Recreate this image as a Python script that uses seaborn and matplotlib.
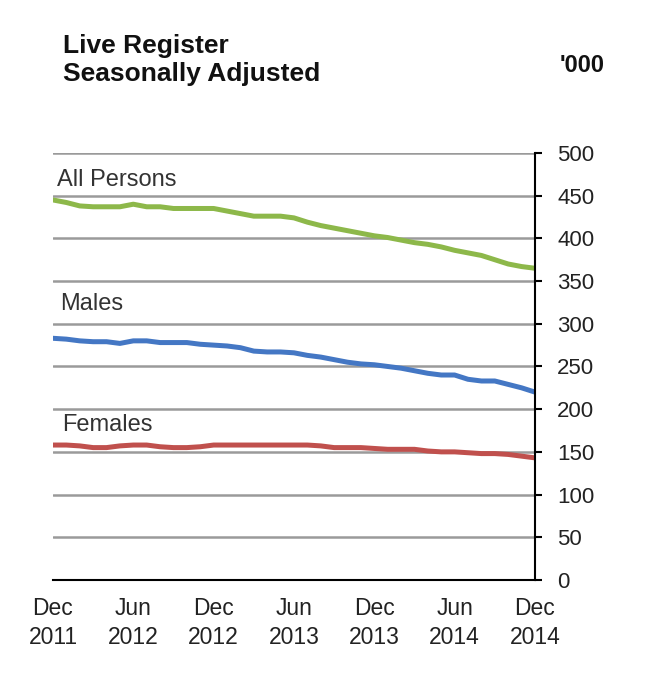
import numpy as np
import pandas as pd
import matplotlib.pyplot as plt
import seaborn as sns

# monthly, Dec 2011 .. Dec 2014 ('000, seasonally adjusted)
all_persons = [445, 442, 438, 437, 437, 437, 440, 437, 437, 435, 435, 435, 435,
               432, 429, 426, 426, 426, 424, 419, 415, 412, 409, 406, 403,
               401, 398, 395, 393, 390, 386, 383, 380, 375, 370, 367, 365]
males = [283, 282, 280, 279, 279, 277, 280, 280, 278, 278, 278, 276, 275,
         274, 272, 268, 267, 267, 266, 263, 261, 258, 255, 253, 252,
         250, 248, 245, 242, 240, 240, 235, 233, 233, 229, 225, 220]
females = [158, 158, 157, 155, 155, 157, 158, 158, 156, 155, 155, 156, 158,
           158, 158, 158, 158, 158, 158, 158, 157, 155, 155, 155, 154,
           153, 153, 153, 151, 150, 150, 149, 148, 148, 147, 145, 143]
month = list(range(len(males)))
tick_months = [0, 6, 12, 18, 24, 30, 36]
tick_labels = ["Dec\n2011", "Jun\n2012", "Dec\n2012", "Jun\n2013",
               "Dec\n2013", "Jun\n2014", "Dec\n2014"]

df = pd.DataFrame({
    "month": month * 3,
    "value": all_persons + males + females,
    "series": ["All Persons"] * len(month) + ["Males"] * len(month) + ["Females"] * len(month),
})

sns.set_style("white")
plt.rcParams['font.family'] = ['Liberation Sans', 'DejaVu Sans']

fig = plt.figure(figsize=(6.5, 6.82), dpi=100)
ax = fig.add_axes([0.0815, 0.1496, 0.7415, 0.6261])

colors = {"All Persons": "#8db84a", "Males": "#4477c4", "Females": "#c0504d"}
sns.lineplot(data=df, x="month", y="value", hue="series", palette=colors,
             linewidth=3.6, ax=ax, legend=False)

ax.set_xlim(0, 36)
ax.set_ylim(0, 500)
ax.set_yticks(range(0, 501, 50))
for yv in range(50, 501, 50):
    ax.axhline(yv, color="#9a9a9a", linewidth=1.8, zorder=0)

ax.yaxis.tick_right()
ax.set_xticks(tick_months)
ax.set_xticklabels(tick_labels, fontsize=16.5, color="#222222", linespacing=1.35)
ax.tick_params(axis="y", direction="out", length=5, width=1.5, colors="black",
               labelsize=16, labelcolor="#222222", pad=11)
ax.tick_params(axis="x", direction="in", length=6, width=1.5, colors="black",
               labelcolor="#222222", pad=12)
ax.set_xlabel("")
ax.set_ylabel("")
for s in ["left", "top"]:
    ax.spines[s].set_visible(False)
for s in ["right", "bottom"]:
    ax.spines[s].set_color("black")
    ax.spines[s].set_linewidth(1.5)

# series labels
ax.text(0.3, 461, "All Persons", fontsize=17, color="#333333", va="baseline")
ax.text(0.5, 316, "Males", fontsize=17, color="#333333", va="baseline")
ax.text(0.7, 174, "Females", fontsize=17, color="#333333", va="baseline")

fig.text(63 / 650, 1 - 53 / 682, "Live Register", fontsize=19, fontweight="bold",
         va="baseline", color="#111111")
fig.text(63 / 650, 1 - 81 / 682, "Seasonally Adjusted", fontsize=19, fontweight="bold",
         va="baseline", color="#111111")
fig.text(560 / 650, 1 - 72 / 682, "'000", fontsize=17, fontweight="bold",
         va="baseline", color="#111111")

fig.savefig("out.png", dpi=100)
